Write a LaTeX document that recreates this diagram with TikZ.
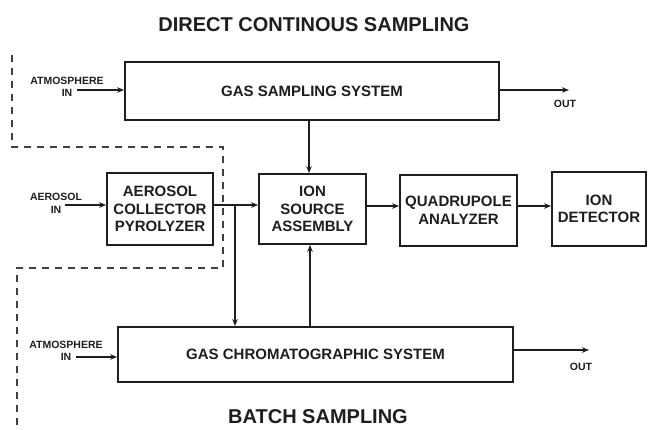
\documentclass[tikz,border=0pt]{standalone}
\usepackage{fontspec}
\setmainfont{Liberation Sans}
\usetikzlibrary{arrows.meta}
\definecolor{ink}{HTML}{1E1E1E}
\begin{document}
\begin{tikzpicture}[x=1pt,y=-1pt,
  box/.style={draw=ink, line width=1.8pt, inner sep=0pt, align=center, text=ink,
    font=\bfseries\fontsize{15}{17.5}\selectfont},
  small/.style={inner sep=0pt, align=center, text=ink,
    font=\bfseries\fontsize{10.5}{12.5}\selectfont},
  title/.style={inner sep=0pt, text=ink, font=\bfseries\fontsize{20}{24}\selectfont},
  arr/.style={draw=ink, line width=1.3pt, -{Stealth[length=7pt,width=5.5pt]}},
  zone/.style={draw=ink!85, line width=1.3pt, dash pattern=on 7pt off 6pt}
]
\useasboundingbox (0,0) rectangle (648,429);
\fill[white] (0,0) rectangle (648,429);

% titles
\node[title] (t1) at (314,25) {DIRECT CONTINOUS SAMPLING};
\node[title] (t2) at (318,417) {BATCH SAMPLING};

% boxes
\node[box, minimum width=374pt, minimum height=58pt] (gss) at (312,91) {GAS SAMPLING SYSTEM};
\node[box, minimum width=106pt, minimum height=72pt] (acp) at (160,209) {AEROSOL\\COLLECTOR\\PYROLYZER};
\node[box, minimum width=107pt, minimum height=70pt] (ion) at (312.5,209) {ION\\SOURCE\\ASSEMBLY};
\node[box, minimum width=117pt, minimum height=71pt] (quad) at (458.5,210.5) {QUADRUPOLE\\ANALYZER};
\node[box, minimum width=94pt, minimum height=74pt] (det) at (599,209) {ION\\DETECTOR};
\node[box, minimum width=395pt, minimum height=55pt] (gc) at (315.5,354.5) {GAS CHROMATOGRAPHIC SYSTEM};

% small labels
\node[small] (atm1l) at (67,87) {ATMOSPHERE\\IN};
\node[small] (aerl) at (56,203.5) {AEROSOL\\IN};
\node[small] (atm2l) at (66,351) {ATMOSPHERE\\IN};
\node[small] (out1l) at (565,104) {OUT};
\node[small] (out2l) at (581,367) {OUT};

% free ends
\coordinate (atm1) at (77,90);
\coordinate (out1) at (569,90);
\coordinate (aer) at (65,205);
\coordinate (j) at (235,205);
\coordinate (atm2) at (76,357);
\coordinate (out2) at (589,350);

% connectors
\draw[arr] (atm1) -- (atm1 -| gss.west);
\draw[arr] (gss.east |- out1) -- (out1);
\draw[arr] ([xshift=-3pt]gss.south) -- ([xshift=-3pt]gss.south |- ion.north);
\draw[arr] (aer) -- (aer -| acp.west);
\draw[arr] (acp.east |- j) -- (j -| ion.west);
\draw[arr] (j) -- (j |- gc.north);
\draw[arr] ([yshift=3pt]ion.east) -- ([yshift=3pt]ion.east -| quad.west);
\draw[arr] ([yshift=4.5pt]quad.east) -- ([yshift=4.5pt]quad.east -| det.west);
\draw[arr] ([xshift=-5.5pt]gc.north) -- ([xshift=-5.5pt]gc.north |- ion.south);
\draw[arr] (atm2) -- (atm2 -| gc.west);
\draw[arr] (gc.east |- out2) -- (out2);

% dashed zone boundary
\draw[zone] (12,55) -- (12,147) -- (223,147) -- (223,268) -- (17,268) -- (17,429);
\end{tikzpicture}
\end{document}
